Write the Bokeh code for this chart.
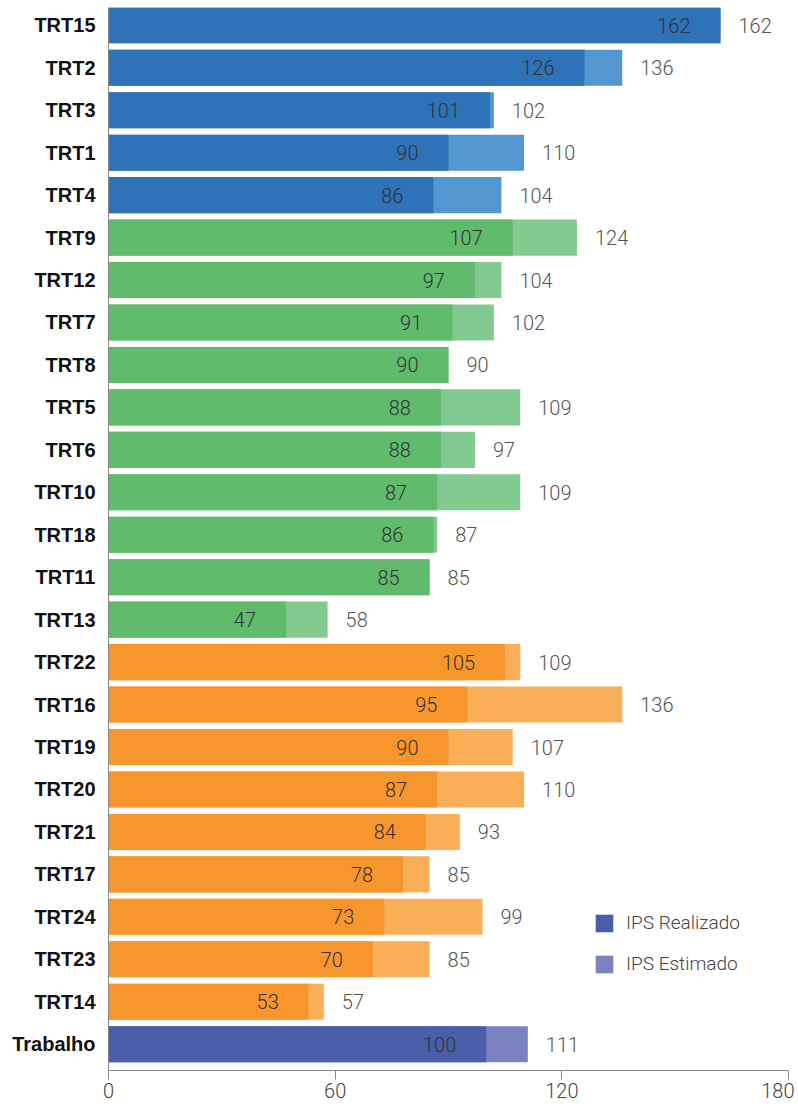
from bokeh.plotting import figure
from bokeh.models import ColumnDataSource, Range1d, FixedTicker, Legend, LegendItem
from bokeh.core.properties import value
from bokeh.embed import file_html
from bokeh.resources import INLINE

categories = ["TRT15", "TRT2", "TRT3", "TRT1", "TRT4", "TRT9", "TRT12", "TRT7", "TRT8",
              "TRT5", "TRT6", "TRT10", "TRT18", "TRT11", "TRT13", "TRT22", "TRT16",
              "TRT19", "TRT20", "TRT21", "TRT17", "TRT24", "TRT23", "TRT14", "Trabalho"]
realizado = [162, 126, 101, 90, 86, 107, 97, 91, 90, 88, 88, 87, 86, 85, 47,
             105, 95, 90, 87, 84, 78, 73, 70, 53, 100]
estimado = [162, 136, 102, 110, 104, 124, 104, 102, 90, 109, 97, 109, 87, 85, 58,
            109, 136, 107, 110, 93, 85, 99, 85, 57, 111]
groups = ["blue"] * 5 + ["green"] * 10 + ["orange"] * 9 + ["navy"]
x_ticks = [0, 60, 120, 180]

dark = {"blue": "#2E72B8", "green": "#60BC6C", "orange": "#F8962E", "navy": "#4A5DA8"}
light = {"blue": "#5496D0", "green": "#82CA8F", "orange": "#F9AF58", "navy": "#7C82C0"}

pos = list(range(len(categories)))
src = ColumnDataSource(dict(
    y=pos, real=realizado, est=estimado,
    real_txt=[str(v) for v in realizado], est_txt=[str(v) for v in estimado],
    dark=[dark[g] for g in groups], light=[light[g] for g in groups],
))

p = figure(width=794, height=1108, output_backend="svg", toolbar_location=None,
           x_range=Range1d(0, 180), y_range=Range1d(len(categories) - 1 + 0.62, -0.42),
           min_border_left=108, min_border_right=6, min_border_top=7, min_border_bottom=38)
p.outline_line_color = None
p.xgrid.visible = False
p.ygrid.visible = False

r_est = p.hbar(y="y", left=0, right="est", height=0.85, fill_color="light",
               line_color=None, source=src)
r_real = p.hbar(y="y", left=0, right="real", height=0.85, fill_color="dark",
                line_color=None, source=src)

thin = value("Roboto Light, Inter, sans-serif")
p.text(x="real", y="y", text="real_txt", source=src, x_offset=-30,
       text_align="right", text_baseline="middle", text_font=thin,
       text_font_size="20px", text_color="#333333")
p.text(x="est", y="y", text="est_txt", source=src, x_offset=18,
       text_align="left", text_baseline="middle", text_font=thin,
       text_font_size="20px", text_color="#555555")

# axes
p.xaxis.ticker = FixedTicker(ticks=x_ticks)
p.xaxis.axis_line_color = "#888888"
p.xaxis.major_tick_line_color = "#888888"
p.xaxis.major_tick_in = 0
p.xaxis.major_tick_out = 9
p.xaxis.minor_tick_line_color = None
p.xaxis.major_label_text_font = "Roboto Light, Inter, sans-serif"
p.xaxis.major_label_text_font_size = "20px"
p.xaxis.major_label_text_color = "#444444"
p.xaxis.major_label_standoff = 3

p.yaxis.ticker = FixedTicker(ticks=pos)
p.yaxis.major_label_overrides = {i: c for i, c in enumerate(categories)}
p.yaxis.axis_line_color = "#888888"
p.yaxis.major_tick_line_color = None
p.yaxis.minor_tick_line_color = None
p.yaxis.major_label_text_font = "Liberation Sans"
p.yaxis.major_label_text_font_style = "bold"
p.yaxis.major_label_text_font_size = "20px"
p.yaxis.major_label_text_color = "#111111"
p.yaxis.major_label_standoff = 7

legend = Legend(items=[
    LegendItem(label="IPS Realizado", renderers=[r_real], index=len(categories) - 1),
    LegendItem(label="IPS Estimado", renderers=[r_est], index=len(categories) - 1),
], location=(485, 95))
legend.border_line_color = None
legend.background_fill_alpha = 0
legend.padding = 0
legend.margin = 0
legend.spacing = 18
legend.glyph_width = 22
legend.glyph_height = 22
legend.label_height = 22
legend.label_standoff = 11
legend.label_text_font = "Roboto Light, Inter, sans-serif"
legend.label_text_font_size = "19px"
legend.label_text_color = "#444444"
p.add_layout(legend)

open("out.html", "w").write(file_html(p, INLINE))
